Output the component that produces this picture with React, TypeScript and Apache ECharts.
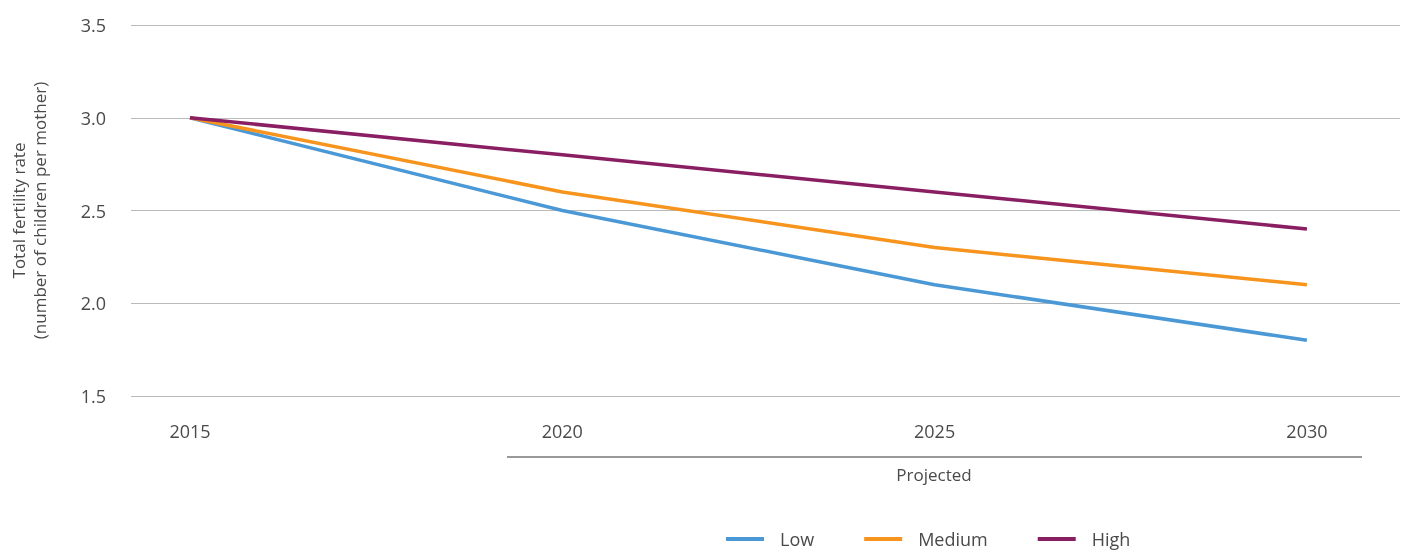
import React, { useEffect, useRef } from "react";
import * as echarts from "echarts";

const years = [2015, 2020, 2025, 2030];
const lowValues = [3.0, 2.5, 2.1, 1.8];
const mediumValues = [3.0, 2.6, 2.3, 2.1];
const highValues = [3.0, 2.8, 2.6, 2.4];
const yTicks = [1.5, 2.0, 2.5, 3.0, 3.5];
const seriesNames = ["Low", "Medium", "High"];
const colors = ["#4A98D5", "#F7941D", "#8A1E62"];

const FONT = "'Open Sans', 'Noto Sans', sans-serif";
const TEXT = "#4a4a4a";

export default function App() {
  const ref = useRef<HTMLDivElement>(null);
  useEffect(() => {
    if (!ref.current) return;
    const chart = echarts.init(ref.current, null, { renderer: "svg" });
    const all = [lowValues, mediumValues, highValues];
    chart.setOption({
      animation: false,
      textStyle: { fontFamily: FONT, color: TEXT },
      grid: { left: 131, right: 8, top: 25, bottom: 158, outerBoundsMode: "none", containLabel: false },
      xAxis: {
        type: "value",
        min: 2014.208,
        max: 2031.25,
        axisLine: { show: false },
        axisTick: { show: false },
        splitLine: { show: false },
        axisLabel: {
          customValues: years,
          formatter: (v: number) => String(v),
          color: TEXT,
          fontSize: 18,
          fontFamily: FONT,
          margin: 26,
        },
      },
      yAxis: {
        type: "value",
        min: yTicks[0],
        max: yTicks[yTicks.length - 1],
        interval: 0.5,
        axisLine: { show: false },
        axisTick: { show: false },
        splitLine: { lineStyle: { color: "#BBBBBB", width: 1 } },
        axisLabel: {
          formatter: (v: number) => v.toFixed(1),
          color: TEXT,
          fontSize: 18,
          fontFamily: FONT,
          margin: 25,
        },
        name: "Total fertility rate\n(number of children per mother)",
        nameLocation: "middle",
        nameGap: 81,
        nameRotate: 90,
        nameTextStyle: {
          color: TEXT,
          fontSize: 17,
          fontFamily: FONT,
          lineHeight: 21,
        },
      },
      legend: {
        show: true,
        top: 530,
        left: 726,
        data: seriesNames,
        itemWidth: 38,
        itemHeight: 4,
        itemGap: 50,
        icon: "rect",
        padding: 0,
        textStyle: { color: TEXT, fontSize: 18, fontFamily: FONT, padding: [0, 0, 0, 11] },
      },
      series: seriesNames.map((name, i) => ({
        name,
        type: "line",
        data: years.map((y, j) => [y, all[i][j]]),
        symbol: "none",
        lineStyle: { color: colors[i], width: 3.5 },
        itemStyle: { color: colors[i] },
        z: 2 + i,
      })),
      graphic: [
        {
          type: "line",
          shape: { x1: 507, y1: 457, x2: 1362, y2: 457 },
          style: { stroke: "#777777", lineWidth: 1.5 },
        },
        {
          type: "text",
          x: 934,
          y: 474,
          style: {
            text: "Projected",
            fill: TEXT,
            fontSize: 17,
            fontFamily: FONT,
            align: "center",
            verticalAlign: "middle",
          },
        },
      ],
    });
    return () => chart.dispose();
  }, []);
  return (
    <div
      ref={ref}
      style={{ position: "fixed", left: 0, top: 0, width: 1408, height: 554 }}
    />
  );
}
